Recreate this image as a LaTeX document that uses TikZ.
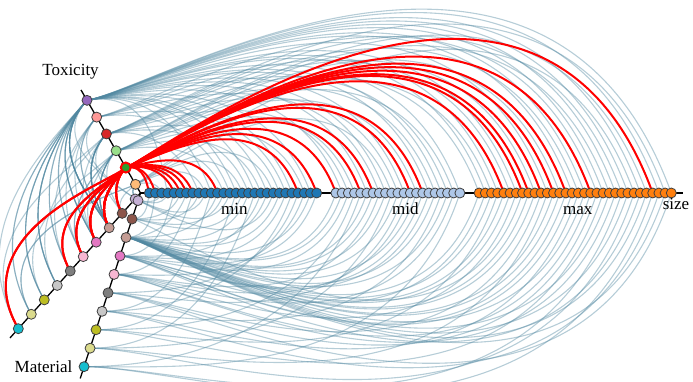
\documentclass[tikz,border=0pt]{standalone}
\usepackage{fontspec}
\setmainfont{Liberation Serif}
\usetikzlibrary{backgrounds}
\definecolor{linkblue}{RGB}{80,135,160}
% toxicity, inner to outer
\definecolor{tox0}{HTML}{FFBB78}
\definecolor{tox1}{HTML}{2CA02C}
\definecolor{tox2}{HTML}{98DF8A}
\definecolor{tox3}{HTML}{D62728}
\definecolor{tox4}{HTML}{FF9896}
\definecolor{tox5}{HTML}{9467BD}
% material, inner to outer
\definecolor{mat0}{HTML}{C5B0D5}
\definecolor{mat1}{HTML}{8C564B}
\definecolor{mat2}{HTML}{C49C94}
\definecolor{mat3}{HTML}{E377C2}
\definecolor{mat4}{HTML}{F7B6D2}
\definecolor{mat5}{HTML}{7F7F7F}
\definecolor{mat6}{HTML}{C7C7C7}
\definecolor{mat7}{HTML}{BCBD22}
\definecolor{mat8}{HTML}{DBDB8D}
\definecolor{mat9}{HTML}{17BECF}
% size groups
\definecolor{sz0}{HTML}{1F77B4}
\definecolor{sz1}{HTML}{AEC7E8}
\definecolor{sz2}{HTML}{FF7F0E}
\tikzset{
    dot/.style={circle, draw=black!75, line width=0.8pt, minimum size=10pt, inner sep=0pt},
    axisline/.style={draw=black, line width=1.3pt},
    link/.style={draw=linkblue, draw opacity=0.42, line width=1.1pt},
    hot/.style={draw=red, line width=2pt},
    lbl/.style={font=\fontsize{17}{20}\selectfont, anchor=base}
}
% item / toxicity / material
\def\items{0/1/1, 1/1/2, 2/0/0, 3/5/0, 4/1/3, 5/1/1, 6/1/2, 7/1/4, 8/3/1, 9/0/0,
  10/5/6, 11/1/2, 12/2/1, 13/4/0, 14/5/7, 15/0/1, 16/3/2, 17/5/8, 18/2/3, 19/5/2,
  20/0/0, 21/3/2, 22/4/3, 23/5/6, 24/1/5, 25/2/4, 26/5/2, 27/1/3, 28/1/2, 29/5/2,
  30/3/3, 31/2/7, 32/1/9, 33/5/2, 34/1/2, 35/4/4, 36/5/2, 37/0/8, 38/3/2, 39/5/5,
  40/1/4, 41/2/2, 42/1/3, 43/5/3, 44/3/2, 45/5/6, 46/4/2, 47/2/4, 48/5/9, 49/3/2,
  50/5/3, 51/2/2, 52/5/7, 53/1/2, 54/4/2, 55/5/4, 56/1/1, 57/1/2, 58/3/2, 59/1/5,
  60/5/8, 61/1/2, 62/2/2, 63/1/3, 64/5/3, 65/3/6, 66/5/2, 67/1/4, 68/4/5, 69/5/7,
  70/2/2, 71/5/4, 72/3/9, 73/5/2, 74/0/8, 75/5/3, 76/2/2, 77/1/9, 78/5/6, 79/3/2, 80/5/5}

\begin{document}
\begin{tikzpicture}[x=1pt, y=1pt]
    \useasboundingbox (-140.5,-189) rectangle (552.5,193);

    % axis ends
    \coordinate (hub) at (0,0);
    \coordinate (toxend) at (120:119);
    \coordinate (maend) at (228:195);
    \coordinate (mbend) at (252:195);
    \coordinate (szend) at (0:542);

    % nodes
    \foreach \i in {0,...,5}{
        \node[dot, fill=tox\i] (t\i) at (120:10+19.4*\i) {};
    }
    \node[dot, fill=tox1, draw=red, line width=2pt] at (t1) {};
    \foreach \j in {0,...,9}{
        \node[dot, fill=mat\j] (ma\j) at (228:8+19.4*\j) {};
        \node[dot, fill=mat\j] (mb\j) at (252:8+19.4*\j) {};
    }
    \foreach \n in {0,...,80}{
        \pgfmathsetmacro{\rsz}{8.8+6.2*\n+13*(\n>27)+13*(\n>48)}
        \pgfmathtruncatemacro{\g}{(\n>27)+(\n>48)}
        \node[dot, fill=sz\g] (s\n) at (0:\rsz) {};
    }

    \begin{scope}[on background layer]
        \draw[axisline] (hub) -- (toxend);
        \draw[axisline] (hub) -- (maend);
        \draw[axisline] (hub) -- (mbend);
        \draw[axisline] (hub) -- (szend);
        % links
        \foreach \n/\t/\m in \items{
            \pgfmathsetmacro{\rsz}{8.8+6.2*\n+13*(\n>27)+13*(\n>48)}
            \pgfmathsetmacro{\rtox}{10+19.4*\t}
            \pgfmathsetmacro{\rmat}{8+19.4*\m}
            \draw[link] (s\n.center) .. controls (-36:\rsz) and (-72:\rmat) .. (mb\m.center);
            \ifnum\t=1\else
                \draw[link] (t\t.center) .. controls (80:\rtox) and (40:\rsz) .. (s\n.center);
                \draw[link] (t\t.center) .. controls (156:\rtox) and (192:\rmat) .. (ma\m.center);
            \fi
        }
        \foreach \n/\t/\m in \items{
            \ifnum\t=1
                \pgfmathsetmacro{\rsz}{8.8+6.2*\n+13*(\n>27)+13*(\n>48)}
                \pgfmathsetmacro{\rmat}{8+19.4*\m}
                \draw[hot] (t1.center) .. controls (80:29.4) and (40:\rsz) .. (s\n.center);
                \draw[hot] (t1.center) .. controls (156:29.4) and (192:\rmat) .. (ma\m.center);
            \fi
        }
    \end{scope}

    % labels
    \node[lbl] (toxlbl) at (-70,117) {Toxicity};
    \node[lbl] (matlbl) at (-97,-179.7) {Material};
    \node[lbl] (minlbl) at (93.8,-21.3) {min};
    \node[lbl] (midlbl) at (264.8,-22) {mid};
    \node[lbl] (maxlbl) at (437.2,-21.5) {max};
    \node[lbl] (szlbl) at (535.5,-16.3) {size};
\end{tikzpicture}
\end{document}
